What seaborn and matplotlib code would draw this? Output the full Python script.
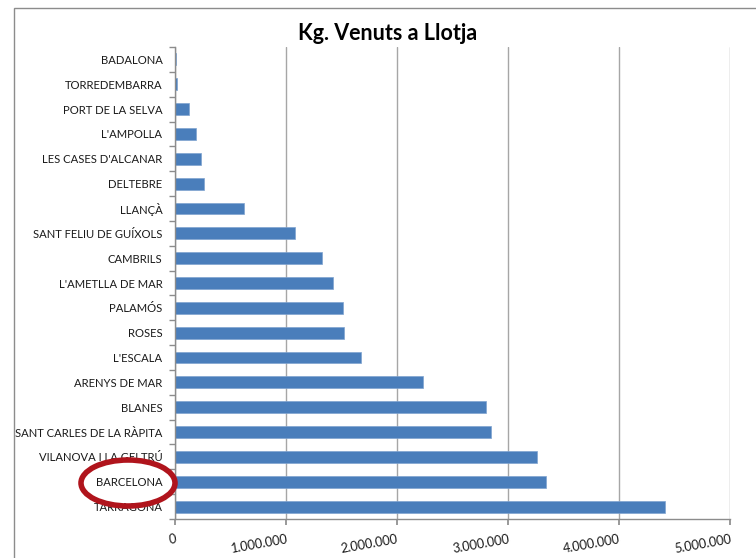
import matplotlib
matplotlib.use("Agg")
import matplotlib.pyplot as plt
from matplotlib.patches import Ellipse, Rectangle
from matplotlib.ticker import FuncFormatter, FixedLocator
import seaborn as sns
import pandas as pd

ports = ["BADALONA", "TORREDEMBARRA", "PORT DE LA SELVA", "L'AMPOLLA",
         "LES CASES D'ALCANAR", "DELTEBRE", "LLANÇÀ", "SANT FELIU DE GUÍXOLS",
         "CAMBRILS", "L'AMETLLA DE MAR", "PALAMÓS", "ROSES", "L'ESCALA",
         "ARENYS DE MAR", "BLANES", "SANT CARLES DE LA RÀPITA",
         "VILANOVA I LA GELTRÚ", "BARCELONA", "TARRAGONA"]
kg = [13000, 22000, 130000, 190000, 230000, 260000, 625000, 1085000,
      1325000, 1420000, 1510000, 1520000, 1680000, 2235000, 2800000,
      2850000, 3260000, 3340000, 4410000]
x_ticks = [0, 1000000, 2000000, 3000000, 4000000, 5000000]
title = "Kg. Venuts a Llotja"

df = pd.DataFrame({"port": ports, "kg": kg})

sns.set_theme(style="white")
plt.rcParams["font.family"] = ["Lato", "DejaVu Sans"]

fig = plt.figure(figsize=(7.56, 5.58), dpi=100)
ax = fig.add_axes([175/756, 1-519/558, (730-175)/756, (519-47)/558])

sns.barplot(data=df, y="port", x="kg", orient="h", color="#4a7ebb",
            saturation=1, width=0.48, order=ports, ax=ax,
            edgecolor="#7fa3d0", linewidth=0.5)

grid_c = "#a6a6a6"
ax.set_xlim(0, 5000000)
ax.set_ylim(len(ports) - 0.5, -0.5)
ax.xaxis.set_major_locator(FixedLocator(x_ticks))
ax.xaxis.set_major_formatter(FuncFormatter(lambda v, p: f"{int(v):,}".replace(",", ".")))
ax.grid(axis="x", color=grid_c, linewidth=1)
ax.set_axisbelow(True)
for s in ["top", "right"]:
    ax.spines[s].set_visible(False)
for s in ["left", "bottom"]:
    ax.spines[s].set_color("#8c8c8c")
    ax.spines[s].set_linewidth(1)
ax.set_xlabel("")
ax.set_ylabel("")

ax.tick_params(axis="y", which="major", length=0, pad=9, labelsize=8.1, labelcolor="#1a1a1a")
ax.set_yticks([i - 0.5 for i in range(len(ports) + 1)], minor=True)
ax.tick_params(axis="y", which="minor", length=4, color="#8c8c8c", left=True)
ax.tick_params(axis="x", which="major", length=4, color="#8c8c8c", bottom=True,
               labelsize=9.2, labelcolor="#1a1a1a", pad=6)
for lab in ax.get_xticklabels():
    lab.set_rotation(10)
    lab.set_ha("right")
    lab.set_rotation_mode("anchor")

fig.text(388/756, 1-33/558, title, ha="center", va="center",
         fontsize=15.5, fontweight="bold", color="#000000")

fig.patches.append(Rectangle((14/756, -0.1), 1.2, 1 - 8/558 + 0.1,
                             transform=fig.transFigure, fill=False,
                             edgecolor="#8c8c8c", linewidth=1))
fig.patches.append(Ellipse((128/756, 1-483/558), 94/756, 46/558,
                           transform=fig.transFigure, fill=False,
                           edgecolor="#b0141c", linewidth=4))

fig.savefig("out.png", dpi=100)
